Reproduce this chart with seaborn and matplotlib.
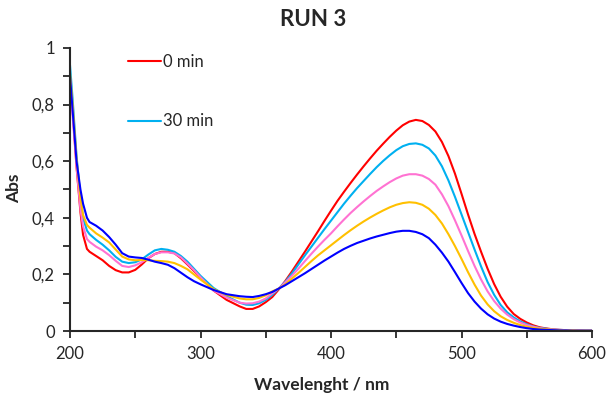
import matplotlib
matplotlib.use("Agg")
import matplotlib.pyplot as plt
import seaborn as sns
import pandas as pd
from matplotlib.lines import Line2D
from matplotlib.ticker import MultipleLocator, FuncFormatter

wavelength = ([200, 202, 205, 208, 210, 213, 215]
              + [220, 225, 230, 235, 240, 245, 250, 255, 260, 265, 270, 275, 280, 285, 290, 295, 300]
              + [310, 320, 330]
              + [335, 340, 345, 350, 355, 360, 365, 370, 375, 380, 385, 390, 395, 400, 405, 410, 415,
                 420, 425, 430, 435, 440, 445, 450, 455, 460, 465, 470, 475, 480, 485, 490, 495, 500,
                 505, 510, 515, 520, 525, 530, 535, 540, 545, 550, 555, 560, 565, 570, 575, 580, 585,
                 590, 595, 600])

abs_0min = ([0.90, 0.78, 0.58, 0.42, 0.34, 0.29, 0.28]
            + [0.265, 0.25, 0.23, 0.215, 0.207, 0.207, 0.216, 0.235, 0.257, 0.272, 0.28, 0.28, 0.275, 0.257, 0.235, 0.212, 0.19]
            + [0.143, 0.11, 0.087]
            + [0.078, 0.078, 0.087, 0.102, 0.12,
               0.147, 0.177, 0.21, 0.245, 0.28, 0.316, 0.352, 0.389, 0.425,
               0.46, 0.492, 0.523, 0.553, 0.582, 0.61, 0.637, 0.662, 0.686, 0.708,
               0.727, 0.740, 0.746, 0.742, 0.728, 0.705, 0.668, 0.618, 0.556, 0.485,
               0.412, 0.343, 0.28, 0.22, 0.166, 0.121, 0.086, 0.06, 0.043, 0.03,
               0.02, 0.013, 0.009, 0.006, 0.004, 0.003, 0.002, 0.002, 0.001, 0.001])

abs_30min = ([0.94, 0.82, 0.62, 0.47, 0.40, 0.355, 0.342]
             + [0.322, 0.305, 0.285, 0.262, 0.245, 0.24, 0.243, 0.253, 0.27, 0.285, 0.29, 0.287, 0.28, 0.265, 0.245, 0.22, 0.195]
             + [0.152, 0.123, 0.10]
             + [0.093, 0.092, 0.098, 0.11, 0.128,
                0.15, 0.174, 0.203, 0.235, 0.267, 0.298, 0.329, 0.36, 0.39,
                0.42, 0.45, 0.478, 0.505, 0.53, 0.555, 0.579, 0.601, 0.621, 0.639,
                0.653, 0.661, 0.663, 0.658, 0.645, 0.62, 0.582, 0.532, 0.474, 0.412,
                0.35, 0.288, 0.228, 0.173, 0.128, 0.092, 0.066, 0.048, 0.034, 0.024,
                0.016, 0.011, 0.008, 0.005, 0.004, 0.003, 0.002, 0.002, 0.001, 0.001])

abs_60min = ([0.88, 0.76, 0.58, 0.43, 0.37, 0.325, 0.315]
             + [0.298, 0.285, 0.268, 0.248, 0.23, 0.226, 0.232, 0.243, 0.258, 0.272, 0.278, 0.278, 0.274, 0.26, 0.238, 0.215, 0.19]
             + [0.143, 0.118, 0.10]
             + [0.097, 0.098, 0.104, 0.115, 0.133,
                0.15, 0.172, 0.195, 0.22, 0.247, 0.273, 0.298, 0.322, 0.345,
                0.37, 0.394, 0.417, 0.438, 0.458, 0.477, 0.495, 0.511, 0.526, 0.539,
                0.549, 0.554, 0.554, 0.549, 0.537, 0.517, 0.483, 0.441, 0.391, 0.338,
                0.283, 0.23, 0.182, 0.14, 0.106, 0.079, 0.058, 0.042, 0.03, 0.021,
                0.015, 0.01, 0.007, 0.005, 0.004, 0.003, 0.002, 0.002, 0.001, 0.001])

abs_90min = ([0.91, 0.80, 0.61, 0.47, 0.41, 0.375, 0.365]
             + [0.345, 0.33, 0.313, 0.288, 0.263, 0.253, 0.25, 0.251, 0.25, 0.248, 0.247, 0.245, 0.24, 0.23, 0.218, 0.20, 0.182]
             + [0.148, 0.127, 0.115]
             + [0.112, 0.112, 0.117, 0.126, 0.14,
                0.15, 0.165, 0.185, 0.205, 0.226, 0.247, 0.267, 0.285, 0.303,
                0.321, 0.339, 0.356, 0.372, 0.387, 0.401, 0.414, 0.426, 0.437, 0.446,
                0.452, 0.455, 0.453, 0.446, 0.432, 0.41, 0.38, 0.342, 0.3, 0.255,
                0.208, 0.164, 0.125, 0.094, 0.07, 0.052, 0.039, 0.029, 0.021, 0.015,
                0.011, 0.008, 0.006, 0.004, 0.003, 0.002, 0.002, 0.001, 0.001, 0.001])

abs_120min = ([0.90, 0.78, 0.60, 0.50, 0.45, 0.40, 0.385]
              + [0.372, 0.355, 0.332, 0.305, 0.275, 0.263, 0.26, 0.258, 0.252, 0.245, 0.24, 0.234, 0.222, 0.206, 0.19, 0.176, 0.165]
              + [0.145, 0.13, 0.123]
              + [0.121, 0.12, 0.124, 0.13, 0.138,
                 0.15, 0.162, 0.176, 0.19, 0.204, 0.219, 0.234, 0.249, 0.263,
                 0.277, 0.29, 0.301, 0.311, 0.319, 0.327, 0.334, 0.34, 0.346, 0.351,
                 0.354, 0.354, 0.35, 0.342, 0.328, 0.305, 0.277, 0.245, 0.208, 0.17,
                 0.134, 0.104, 0.079, 0.059, 0.044, 0.033, 0.025, 0.019, 0.014, 0.01,
                 0.007, 0.005, 0.004, 0.003, 0.002, 0.002, 0.001, 0.001, 0.001, 0.001])

series_names = ["0 min", "30 min", "60 min", "90 min", "120 min"]
series_values = [abs_0min, abs_30min, abs_60min, abs_90min, abs_120min]
series_colors = ["#FF0000", "#00B0F0", "#FF72D2", "#FFC000", "#0000FF"]
legend_shown = ["0 min", "30 min"]

y_ticks = [0, 0.2, 0.4, 0.6, 0.8, 1.0]
x_ticks = [200, 300, 400, 500, 600]

rows = []
for name, vals in zip(series_names, series_values):
    for w, v in zip(wavelength, vals):
        rows.append({"Wavelength": w, "Abs": v, "Series": name})
df = pd.DataFrame(rows)

sns.set_style("white")
plt.rcParams["font.family"] = ["Lato", "DejaVu Sans"]

fig = plt.figure(figsize=(6.08, 4.0), dpi=100)
ax = fig.add_axes([70 / 608, 1 - 331 / 400, (592 - 70) / 608, (331 - 48) / 400])

palette = dict(zip(series_names, series_colors))
sns.lineplot(data=df, x="Wavelength", y="Abs", hue="Series", hue_order=series_names,
             palette=palette, linewidth=1.5, legend=False, ax=ax, sort=True,
             estimator=None)

ax.set_xlim(200, 600)
ax.set_ylim(0, 1)
ax.set_xticks(x_ticks)
ax.set_yticks(y_ticks)
ax.xaxis.set_minor_locator(MultipleLocator(50))
ax.yaxis.set_minor_locator(MultipleLocator(0.1))
ax.yaxis.set_major_formatter(FuncFormatter(lambda v, p: ("%g" % round(v, 2)).replace(".", ",")))
ax.tick_params(axis="both", which="both", direction="out", length=5, width=1.3,
               color="#262626", labelsize=12, labelcolor="#262626", pad=6)
ax.tick_params(axis="both", which="both", bottom=True, left=True)

for s in ["top", "right"]:
    ax.spines[s].set_visible(False)
for s in ["left", "bottom"]:
    ax.spines[s].set_color("#262626")
    ax.spines[s].set_linewidth(1.5)

ax.set_xlabel("")
ax.set_ylabel("")
fig.text(322 / 608, 1 - 385 / 400, "Wavelenght / nm", fontsize=12.5, fontweight="bold",
         color="#262626", ha="center", va="center")
fig.text(14 / 608, 1 - 188 / 400, "Abs", fontsize=12.5, fontweight="bold",
         color="#262626", ha="center", va="center", rotation=90)
fig.text(313 / 608, 1 - 20 / 400, "RUN 3", fontsize=16, fontweight="bold",
         color="#262626", ha="center", va="center")

handles = [Line2D([0], [0], color=palette[n], lw=1.5) for n in legend_shown]
leg = ax.legend(handles, legend_shown, loc="upper left", bbox_to_anchor=(128 / 608, 1 - 54 / 400),
                bbox_transform=fig.transFigure, frameon=False, fontsize=12,
                handlelength=1.95, handletextpad=0.15, labelspacing=2.6, borderpad=0, borderaxespad=0)
for t in leg.get_texts():
    t.set_color("#262626")

fig.savefig("out.png", dpi=100)
